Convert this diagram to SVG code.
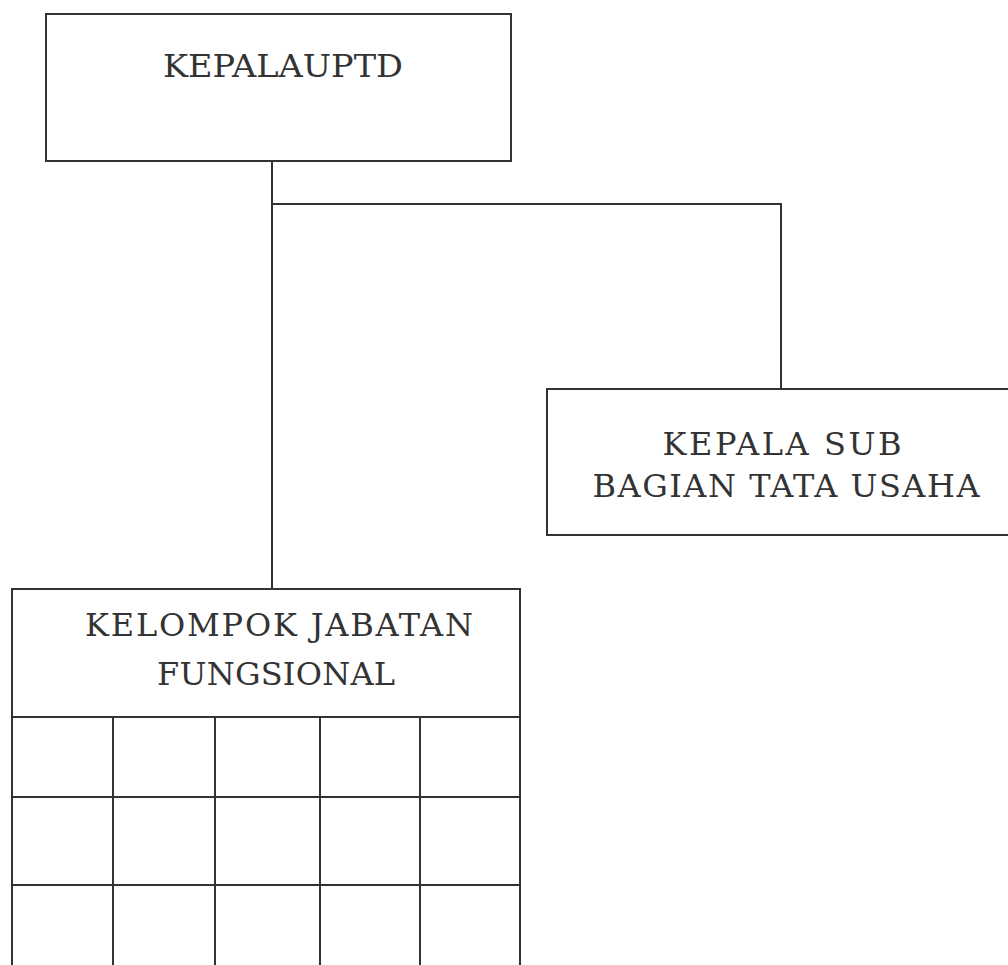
<svg xmlns="http://www.w3.org/2000/svg" width="1008" height="965" viewBox="0 0 1008 965">
<style>
.box{fill:#fff;stroke:#333;stroke-width:2}
.ln{stroke:#333;stroke-width:2;fill:none}
.t{font-family:"DejaVu Serif","Liberation Serif",serif;font-size:32px;fill:#333;text-anchor:middle}
</style>
<rect width="1008" height="965" fill="#fff"/>
<g id="connectors">
<path class="ln" d="M272 161 V589 M272 204 H781 V389"/>
</g>
<g id="kepala-uptd">
<rect class="box" x="46" y="14" width="465" height="147"/>
<text class="t" x="283" y="77" textLength="240" lengthAdjust="spacingAndGlyphs">KEPALAUPTD</text>
</g>
<g id="kepala-sub-bagian">
<rect class="box" x="547" y="389" width="470" height="146"/>
<text class="t" x="782" y="455" textLength="239" lengthAdjust="spacing">KEPALA SUB</text>
<text class="t" x="786" y="497" textLength="387" lengthAdjust="spacing">BAGIAN TATA USAHA</text>
</g>
<g id="kelompok-jabatan">
<rect class="box" x="12" y="589" width="508" height="390"/>
<text class="t" x="279" y="636" textLength="388" lengthAdjust="spacing">KELOMPOK JABATAN</text>
<text class="t" x="276" y="685" textLength="238" lengthAdjust="spacing">FUNGSIONAL</text>
<path class="ln" d="M12 717 H520 M12 797 H520 M12 885 H520 M113 717 V970 M215 717 V970 M320 717 V970 M420 717 V970"/>
</g>
</svg>
